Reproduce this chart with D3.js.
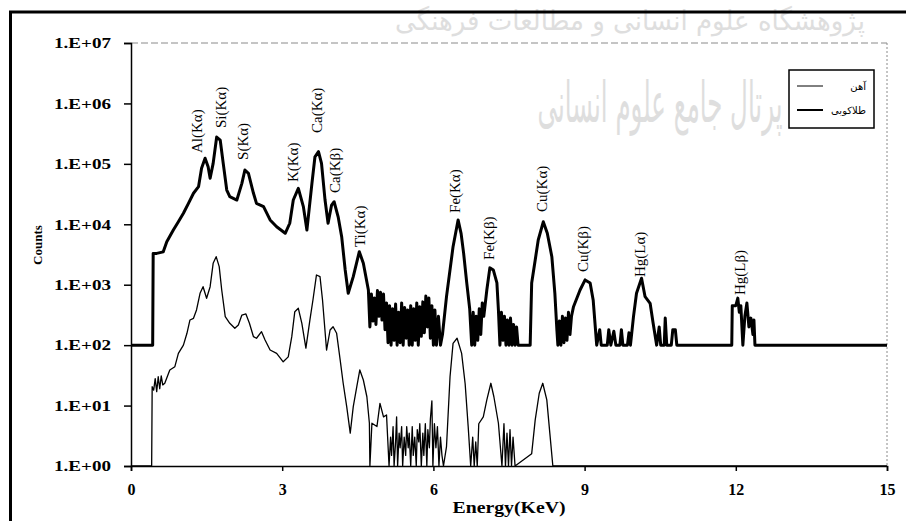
<!DOCTYPE html>
<html>
<head>
<meta charset="utf-8">
<script src="https://cdnjs.cloudflare.com/ajax/libs/d3/7.8.5/d3.min.js"></script>
<style>
  body { margin: 0; background: #fff; }
  svg { display: block; }
</style>
</head>
<body>
<script>
var w = 906;
var h = 531;

// x ticks (keV) and y ticks (counts, log)
var energyTicks = [0, 3, 6, 9, 12, 15];
var countTicks = [1, 10, 100, 1e3, 1e4, 1e5, 1e6, 1e7];
var countLabels = ["1.E+00", "1.E+01", "1.E+02", "1.E+03", "1.E+04", "1.E+05", "1.E+06", "1.E+07"];

var seriesNames = ["آهن", "طلاکوبی"];

// thin line (lower spectrum): energy / counts
var lowerEnergy = [0, 0.41, 0.42, 0.45, 0.48, 0.51, 0.54, 0.57, 0.60, 0.63, 0.67, 0.77, 0.87, 0.94, 1.04, 1.11, 1.17, 1.24, 1.30, 1.37,
  1.43, 1.50, 1.57, 1.63, 1.69, 1.75, 1.80, 1.87, 1.96, 2.06, 2.13, 2.20, 2.28, 2.35, 2.43, 2.49, 2.59, 2.66, 2.76, 2.89,
  3.02, 3.12, 3.19, 3.25, 3.32, 3.39, 3.47, 3.55, 3.61, 3.68, 3.75, 3.80, 3.88, 3.95, 4.01, 4.08, 4.15, 4.21, 4.28, 4.35,
  4.41, 4.48, 4.54, 4.61, 4.68, 4.73, 4.74, 4.78, 4.88, 4.94, 5.01, 5.07, 5.12,
  5.15, 5.17, 5.20, 5.22, 5.25, 5.27, 5.29, 5.32, 5.34, 5.37, 5.39, 5.42, 5.45, 5.47, 5.50, 5.52, 5.55, 5.58, 5.60, 5.63,
  5.66, 5.68, 5.71, 5.73, 5.76, 5.79, 5.81, 5.84, 5.87, 5.89, 5.92, 5.94, 5.97, 5.99, 6.02, 6.05, 6.08, 6.11, 6.14, 6.17,
  6.20, 6.26, 6.33, 6.39, 6.47, 6.56, 6.63, 6.69, 6.74, 6.78, 6.81, 6.84, 6.87,
  6.90, 6.99, 7.06, 7.14, 7.20, 7.29, 7.36, 7.40, 7.43, 7.46, 7.49, 7.52, 7.55, 7.58, 7.62, 7.95, 8.02, 8.10, 8.17, 8.25,
  8.31, 8.37, 15];
var lowerCounts = [1, 1, 20.5, 18, 28, 17, 30, 19, 31, 22, 23.4, 38.8, 44, 73, 100, 157, 261, 278, 382, 721,
  927, 596, 927, 2260, 2910, 1990, 817, 296, 230, 190, 215, 315, 328, 230, 138, 130, 167, 122, 83, 73,
  53, 64, 138, 358, 407, 230, 89, 261, 559, 1450, 1360, 559, 83, 178, 202, 157, 57, 23.4, 9.6, 3.5,
  9.6, 20.5, 38.8, 26.5, 14, 5.1, 1, 5.1, 4.5, 10.9, 6.5, 7, 1,
  3, 1.5, 4.5, 1, 2.5, 6.5, 1, 3.5, 2, 4.5, 1, 3, 1.5, 4.5, 2, 3.5, 1, 4.5, 1.5, 3,
  1, 4, 2.5, 5, 1, 3.5, 1.5, 5, 1, 4, 2, 6, 12, 1, 5, 2, 4.5, 1, 3, 1.5,
  1, 2.1, 30, 107, 130, 73, 23, 4.5, 1, 3, 1, 2.5, 1,
  5, 6.5, 12.4, 23.4, 14, 5.1, 1, 5, 1, 3.5, 1, 4, 1, 3, 1, 1.6, 5.8, 16, 23.4, 12.4,
  3.5, 1, 1];

// thick line (upper spectrum): energy / counts
var upperEnergy = [0, 0.43, 0.44, 0.51, 0.64, 0.71, 0.84, 0.94, 1.04, 1.14, 1.24, 1.34, 1.40, 1.47, 1.53, 1.57, 1.63, 1.70, 1.77, 1.83,
  1.90, 1.96, 2.10, 2.20, 2.26, 2.33, 2.43, 2.49, 2.63, 2.76, 2.89, 3.06, 3.15, 3.22, 3.32, 3.42, 3.49, 3.59, 3.65, 3.72,
  3.78, 3.85, 3.91, 3.98, 4.03, 4.11, 4.18, 4.25, 4.31, 4.41, 4.53, 4.61, 4.71, 4.74, 4.77, 4.80, 4.83, 4.86, 4.89, 4.92,
  4.95, 4.98, 5.01, 5.04, 5.07, 5.10, 5.13, 5.16, 5.19, 5.22, 5.25, 5.28, 5.31, 5.34, 5.37, 5.40, 5.43, 5.46, 5.49, 5.52,
  5.55, 5.58, 5.61, 5.64, 5.67, 5.70, 5.73, 5.76, 5.79, 5.82, 5.85, 5.88, 5.91, 5.94, 5.97, 6.00, 6.03, 6.06, 6.10, 6.14,
  6.18, 6.26, 6.39, 6.49, 6.55, 6.60, 6.66, 6.72, 6.76, 6.79, 6.82, 6.85, 6.88, 6.91, 6.94, 6.97, 7.00, 7.06, 7.12, 7.19,
  7.26, 7.29, 7.32, 7.35, 7.38, 7.41, 7.44, 7.47, 7.50, 7.53, 7.56, 7.59, 7.62, 7.65, 7.68, 7.72, 7.92, 7.95, 8.02, 8.08,
  8.18, 8.26, 8.35, 8.41, 8.45, 8.47, 8.50, 8.53, 8.56, 8.59, 8.62, 8.65, 8.68, 8.71, 8.74, 8.78, 8.91, 9.01, 9.11, 9.17,
  9.24, 9.30, 9.33, 9.45, 9.48, 9.52, 9.58, 9.62, 9.70, 9.73, 9.76, 9.85, 9.88, 9.91, 9.97, 10.03, 10.13, 10.20, 10.30, 10.36,
  10.43, 10.48, 10.51, 10.58, 10.60, 10.63, 10.72, 10.75, 10.80, 10.83, 11.92, 11.93, 12.00, 12.04, 12.07, 12.10, 12.14, 12.18, 12.22, 12.26,
  12.30, 12.34, 12.36, 12.38, 15];
var upperCounts = [100, 100, 3300, 3300, 3500, 5150, 8040, 11000, 15200, 22200, 32600, 41900, 84400, 124000, 89700, 57700, 102000, 278000, 248000, 102000,
  36900, 28600, 25200, 47600, 79100, 69800, 32600, 22200, 19600, 11800, 9120, 7100, 10400, 25200, 39400, 19600, 8040, 47600, 131000, 159000,
  102000, 25200, 10400, 20800, 23600, 13300, 6230, 1750, 721, 1360, 3520, 2260, 817, 200, 700, 250, 600, 220, 800, 300,
  750, 260, 700, 180, 500, 110, 450, 100, 400, 120, 480, 100, 350, 110, 500, 100, 420, 130, 380, 100,
  450, 100, 400, 120, 500, 100, 430, 140, 520, 160, 650, 200, 600, 130, 450, 100, 380, 100, 300, 100,
  150, 634, 4260, 11800, 7000, 3300, 1100, 400, 100, 350, 100, 300, 120, 400, 150, 500, 300, 817, 1900, 1750,
  1070, 382, 100, 350, 120, 300, 100, 260, 100, 280, 100, 220, 100, 200, 100, 100, 100, 1070, 2570, 5490,
  11000, 7100, 2910, 721, 178, 100, 250, 100, 300, 110, 280, 120, 350, 150, 300, 433, 817, 1200, 1070, 559,
  100, 180, 100, 100, 180, 100, 170, 100, 100, 180, 100, 100, 160, 100, 296, 721, 1280, 634, 492, 230,
  100, 200, 100, 100, 280, 100, 100, 180, 180, 100, 100, 450, 450, 600, 350, 450, 100, 300, 500, 200,
  280, 150, 260, 100, 100];

// peak annotations
var peakNames = ["Al(Kα)", "Si(Kα)", "S(Kα)", "K(Kα)", "Ca(Kα)", "Ca(Kβ)", "Ti(Kα)", "Fe(Kα)", "Fe(Kβ)", "Cu(Kα)", "Cu(Kβ)", "Hg(Lα)", "Hg(Lβ)"];
var peakEnergy = [1.31, 1.79, 2.22, 3.21, 3.69, 4.05, 4.54, 6.43, 7.10, 8.15, 8.97, 10.10, 12.08];
var peakLevel = [151000, 392000, 116000, 50000, 324000, 33000, 4200, 15400, 2570, 16000, 1620, 1340, 675];

var serif = "'Liberation Serif', 'Times New Roman', serif";
var persian = "'DejaVu Sans', sans-serif";

var svg = d3.select("body").append("svg").attr("width", w).attr("height", h);

var x = d3.scaleLinear().domain([0, 15]).range([131, 887]);
var y = d3.scaleLog().domain([1, 1e7]).range([466, 43]);

// faint watermark text, squeezed to its width in the picture
function watermark(txt, cx, by, size, width) {
  var t = svg.append("text")
    .attr("text-anchor", "middle")
    .attr("direction", "rtl")
    .attr("font-family", persian)
    .attr("font-size", size)
    .attr("fill", "#dedede")
    .text(txt);
  var natural = t.node().getComputedTextLength();
  t.attr("transform", "translate(" + cx + "," + by + ") scale(" + (width / natural) + ",1)");
}
watermark("پژوهشگاه علوم انسانی و مطالعات فرهنگی", 630, 30, 27, 470);
watermark("پرتال جامع علوم انسانی", 660, 122, 56, 245);

// outer frame (top and left edge)
svg.append("path")
  .attr("d", "M10.5,521 L10.5,12 L906,12")
  .attr("fill", "none")
  .attr("stroke", "#000")
  .attr("stroke-width", 3);

// plot area border
svg.append("line")
  .attr("x1", x(0)).attr("x2", x(15)).attr("y1", y(1e7)).attr("y2", y(1e7))
  .attr("stroke", "#8a8a8a").attr("stroke-width", 1).attr("stroke-dasharray", "7,3");
svg.append("line")
  .attr("x1", x(15)).attr("x2", x(15)).attr("y1", y(1e7)).attr("y2", y(1))
  .attr("stroke", "#8a8a8a").attr("stroke-width", 1).attr("stroke-dasharray", "2,2");

// axes
var yAxis = svg.append("g")
  .attr("transform", "translate(" + x(0) + ",0)")
  .call(d3.axisLeft(y).tickValues(countTicks).tickSize(7).tickPadding(13)
    .tickFormat(function (d, i) { return countLabels[i]; }));
yAxis.selectAll("text")
  .attr("font-family", serif)
  .attr("font-weight", "bold")
  .attr("font-size", 15)
  .attr("fill", "#000")
  .attr("textLength", 57).attr("lengthAdjust", "spacingAndGlyphs");

var xAxis = svg.append("g")
  .attr("transform", "translate(0," + y(1) + ")")
  .call(d3.axisBottom(x).tickValues(energyTicks).tickSize(5).tickFormat(d3.format("d")));
xAxis.selectAll("text")
  .attr("dy", null)
  .attr("y", 29)
  .attr("font-family", serif)
  .attr("font-weight", "bold")
  .attr("font-size", 16)
  .attr("fill", "#000");

svg.selectAll(".domain").attr("stroke", "#000").attr("stroke-width", 1.5);
svg.selectAll(".tick line").attr("stroke", "#000").attr("stroke-width", 1.5);

// axis titles
svg.append("text")
  .attr("x", 509).attr("y", 513)
  .attr("text-anchor", "middle")
  .attr("font-family", serif)
  .attr("font-weight", "bold")
  .attr("font-size", 16)
  .attr("textLength", 113).attr("lengthAdjust", "spacingAndGlyphs")
  .text("Energy(KeV)");
svg.append("text")
  .attr("transform", "translate(42,245) rotate(-90)")
  .attr("text-anchor", "middle")
  .attr("font-family", serif)
  .attr("font-weight", "bold")
  .attr("font-size", 13)
  .text("Counts");

// spectra
var line = d3.line()
  .x(function (d) { return x(d[0]); })
  .y(function (d) { return y(d[1]); });

var lowerData = d3.zip(lowerEnergy, lowerCounts);
var upperData = d3.zip(upperEnergy, upperCounts);

svg.append("path")
  .datum(lowerData)
  .attr("d", line)
  .attr("fill", "none")
  .attr("stroke", "#000")
  .attr("stroke-width", 1.3)
  .attr("stroke-linejoin", "round");

svg.append("path")
  .datum(upperData)
  .attr("d", line)
  .attr("fill", "none")
  .attr("stroke", "#000")
  .attr("stroke-width", 3)
  .attr("stroke-linejoin", "round");

// peak labels
svg.selectAll(".peak")
  .data(peakNames)
  .enter()
  .append("text")
  .attr("class", "peak")
  .attr("transform", function (d, i) {
    return "translate(" + x(peakEnergy[i]) + "," + y(peakLevel[i]) + ") rotate(-90)";
  })
  .attr("dy", "0.35em")
  .attr("font-family", serif)
  .attr("font-size", 15)
  .attr("fill", "#000")
  .text(function (d) { return d; });

// legend
var legend = svg.append("g");
legend.append("rect")
  .attr("x", 789).attr("y", 70).attr("width", 85).attr("height", 58)
  .attr("fill", "#fff").attr("stroke", "#000").attr("stroke-width", 1.5);
legend.selectAll(".lg-line")
  .data(seriesNames)
  .enter()
  .append("line")
  .attr("x1", 797).attr("x2", 823)
  .attr("y1", function (d, i) { return 86 + i * 24; })
  .attr("y2", function (d, i) { return 86 + i * 24; })
  .attr("stroke", "#000")
  .attr("stroke-width", function (d, i) { return i === 0 ? 1 : 2; });
legend.selectAll(".lg-text")
  .data(seriesNames)
  .enter()
  .append("text")
  .attr("x", 866)
  .attr("y", function (d, i) { return 90 + i * 24; })
  .attr("text-anchor", "end")
  .attr("font-family", persian)
  .attr("font-size", 10)
  .attr("fill", "#000")
  .text(function (d) { return d; });
</script>
</body>
</html>
